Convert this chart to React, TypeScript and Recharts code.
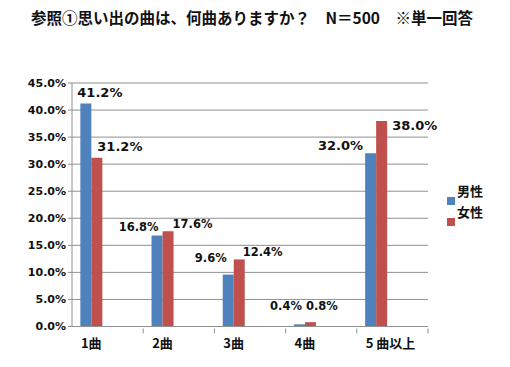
import React from "react";
import {
  BarChart,
  Bar,
  XAxis,
  YAxis,
  CartesianGrid,
  LabelList,
} from "recharts";

const categories = ["1曲", "2曲", "3曲", "4曲", "5 曲以上"];
const male = [41.2, 16.8, 9.6, 0.4, 32.0];
const female = [31.2, 17.6, 12.4, 0.8, 38.0];
const yTicks = [0, 5, 10, 15, 20, 25, 30, 35, 40, 45];

const title = "参照①思い出の曲は、何曲ありますか？　N＝500　※単一回答";

// bars sit left of their band centre, like the original
const shift = 0.266;

const data = categories.map((name, i) => ({
  pos: i,
  name,
  male: male[i],
  female: female[i],
}));

// category centres get a label, band edges get a tick mark
const xTicks = categories.flatMap((_c, i) => [i, i + 1 - shift]);

const blue = "#4f81bd";
const red = "#c0504d";
const gray = "#909090";
const numFont = "'DejaVu Sans', Verdana, sans-serif";
const jpFont = "'Noto Sans CJK JP', sans-serif";

type LabelPos = { dx: number; dy: number; anchor: "start" | "end"; big?: boolean };

const maleLabels: LabelPos[] = [
  { dx: -3, dy: -7, anchor: "start", big: true },
  { dx: 7, dy: -5, anchor: "end" },
  { dx: 4, dy: -13, anchor: "end" },
  { dx: 8, dy: -14, anchor: "end" },
  { dx: -2, dy: -3, anchor: "end", big: true },
];

const femaleLabels: LabelPos[] = [
  { dx: 6, dy: -7, anchor: "start", big: true },
  { dx: 10, dy: -3, anchor: "start" },
  { dx: 9, dy: -3, anchor: "start" },
  { dx: 1, dy: -12, anchor: "start" },
  { dx: 16, dy: 9, anchor: "start", big: true },
];

const makeLabel = (pos: LabelPos[]) => (props: any) => {
  const { x, y, value, index } = props;
  const p = pos[index];
  return (
    <text
      x={x + p.dx}
      y={y + p.dy}
      textAnchor={p.anchor}
      fontFamily={numFont}
      fontWeight="bold"
      fontSize={p.big ? 13 : 11.5}
      fill="#111"
    >
      {`${Number(value).toFixed(1)}%`}
    </text>
  );
};

const CatTick = (props: any) => {
  const { x, y, payload } = props;
  const v = payload.value;
  if (!Number.isInteger(v)) {
    return <line x1={x} x2={x} y1={y} y2={y + 5} stroke={gray} />;
  }
  return (
    <text
      x={x - 10}
      y={y + 19}
      textAnchor="start"
      fontFamily={jpFont}
      fontWeight="bold"
      fontSize={13}
      fill="#111"
    >
      {categories[v]}
    </text>
  );
};

const legendItems = [
  { name: "男性", color: blue },
  { name: "女性", color: red },
];

export default function App() {
  return (
    <div style={{ position: "relative", width: 510, height: 367, background: "#fff" }}>
      <style>{"body{margin:0}"}</style>
      <div
        style={{
          position: "absolute",
          left: -3,
          top: 6,
          width: 510,
          textAlign: "center",
          fontFamily: jpFont,
          fontWeight: "bold",
          fontSize: 15.5,
          lineHeight: "22px",
          color: "#111",
        }}
      >
        {title}
      </div>
      <div
        style={{
          position: "absolute",
          left: 447,
          top: 183,
          fontFamily: jpFont,
          fontWeight: "bold",
          fontSize: 13,
          color: "#111",
        }}
      >
        {legendItems.map((item) => (
          <div key={item.name} style={{ position: "relative", height: 21, width: 50 }}>
            <span
              style={{
                position: "absolute",
                left: 0,
                top: 14,
                width: 8,
                height: 8,
                background: item.color,
              }}
            />
            <span style={{ position: "absolute", left: 10, top: 0, lineHeight: "16px" }}>
              {item.name}
            </span>
          </div>
        ))}
      </div>
      <BarChart
        width={510}
        height={367}
        data={data}
        margin={{ top: 83, right: 82, bottom: 0, left: 0 }}
        barGap={0}
        barSize={11}
      >
        <CartesianGrid vertical={false} stroke={gray} strokeWidth={1} />
        <XAxis
          dataKey="pos"
          type="number"
          domain={[-shift, 5 - shift]}
          ticks={xTicks}
          interval={0}
          height={40.5}
          stroke={gray}
          tickLine={false}
          tickSize={0}
          tick={<CatTick />}
          allowDataOverflow
        />
        <YAxis
          width={72}
          domain={[0, 45]}
          ticks={yTicks}
          stroke={gray}
          tickSize={4}
          tickMargin={2}
          tickFormatter={(v: number) => `${v.toFixed(1)}%`}
          tick={{ fontFamily: numFont, fontWeight: "bold", fontSize: 11, fill: "#111" }}
        />
        <Bar dataKey="male" name="男性" fill={blue} isAnimationActive={false}>
          <LabelList dataKey="male" content={makeLabel(maleLabels)} />
        </Bar>
        <Bar dataKey="female" name="女性" fill={red} isAnimationActive={false}>
          <LabelList dataKey="female" content={makeLabel(femaleLabels)} />
        </Bar>
      </BarChart>
    </div>
  );
}
